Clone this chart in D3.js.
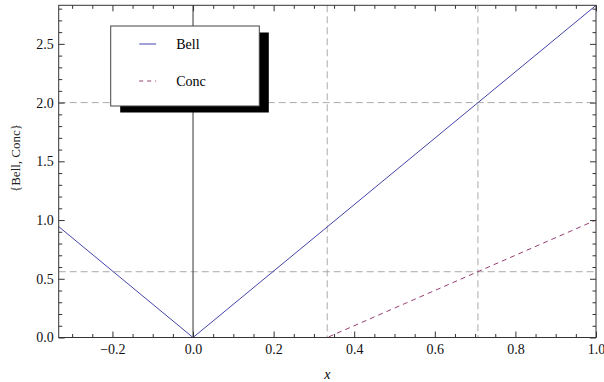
<!DOCTYPE html>
<html>
<head>
<meta charset="utf-8">
<script src="https://cdn.jsdelivr.net/npm/d3@7"></script>
<style>
  body { margin: 0; background: white; }
  svg text { font-family: "Liberation Serif", "DejaVu Serif", serif; }
</style>
</head>
<body>
<svg id="main-svg" width="604" height="382"></svg>
<script>
// series
var bellX = [-0.333, 0, 1];
var bellY = [0.943, 0, 2.828];
var concX = [-0.333, 0.333, 1];
var concY = [0, 0, 1];

// dashed reference lines
var refX = [0.333, 0.707];
var refY = [0.56, 2.0];

// ticks
var xTicks = [-0.2, 0.0, 0.2, 0.4, 0.6, 0.8, 1.0];
var yTicks = [0.0, 0.5, 1.0, 1.5, 2.0, 2.5];
var seriesNames = ["Bell", "Conc"];

var svg = d3.select("#main-svg");

const plotLeft = 58.7, plotRight = 596, plotTop = 5.3, plotBottom = 337.5;
const colorBell = "#4444a8";
const colorConc = "#993d71";
const serif = "'Liberation Serif', 'DejaVu Serif', serif";

var x = d3.scaleLinear().domain([-1 / 3, 1]).range([plotLeft, plotRight]);
var y = d3.scaleLinear().domain([0, 2 * Math.SQRT2]).range([plotBottom, plotTop]);

// minor ticks
var xMinor = d3.range(-0.3, 1.0001, 0.05).filter(v => !xTicks.some(t => Math.abs(t - v) < 1e-6));
var yMinor = d3.range(0, 2.81, 0.1).filter(v => !yTicks.some(t => Math.abs(t - v) < 1e-6));

var g = svg.append("g");

// reference lines
refX.forEach(function(v) {
    g.append("line")
        .attr("x1", x(v)).attr("x2", x(v))
        .attr("y1", plotTop).attr("y2", plotBottom)
        .attr("stroke", "#aaaaaa")
        .attr("stroke-dasharray", "7,4");
});
refY.forEach(function(v) {
    g.append("line")
        .attr("x1", plotLeft).attr("x2", plotRight)
        .attr("y1", y(v)).attr("y2", y(v))
        .attr("stroke", "#aaaaaa")
        .attr("stroke-dasharray", "7,4");
});

// vertical axis at x = 0
g.append("line")
    .attr("x1", x(0)).attr("x2", x(0))
    .attr("y1", plotTop).attr("y2", plotBottom)
    .attr("stroke", "#555")
    .attr("stroke-width", 1.2);

// series
var line = d3.line().x(d => x(d[0])).y(d => y(d[1]));

g.append("path")
    .datum(concX.map((v, i) => [v, concY[i]]))
    .attr("d", line)
    .attr("fill", "none")
    .attr("stroke", colorConc)
    .attr("stroke-dasharray", "5,4");

g.append("path")
    .datum(bellX.map((v, i) => [v, bellY[i]]))
    .attr("d", line)
    .attr("fill", "none")
    .attr("stroke", colorBell);

// frame axes with inward ticks
function frameAxis(axis, ticks, minor, transform, labels) {
    var a = g.append("g").attr("transform", transform);
    a.call(axis.tickValues(ticks).tickSize(-6).tickSizeOuter(0)
        .tickFormat(labels ? d3.format(".1f") : ""));
    a.attr("font-family", serif).attr("font-size", 14);
    a.select(".domain").remove();
    a.selectAll(".tick line").attr("stroke", "#333");
    a.selectAll(".tick text")
        .attr("fill", "#111")
        .style("font-family", serif)
        .style("font-size", "14px");
    var m = g.append("g").attr("transform", transform);
    m.call(axis.tickValues(minor).tickSize(-3.5).tickFormat(""));
    m.select(".domain").remove();
    m.selectAll(".tick line").attr("stroke", "#333");
    return a;
}

var xb = frameAxis(d3.axisBottom(x), xTicks, xMinor, `translate(0,${plotBottom})`, true);
xb.selectAll(".tick text").attr("dy", "0.71em").attr("y", 7)
    .text(d => d3.format(".1f")(d).replace("-", "\u2212"));
frameAxis(d3.axisTop(x), xTicks, xMinor, `translate(0,${plotTop})`, false);
var yl = frameAxis(d3.axisLeft(y), yTicks, yMinor, `translate(${plotLeft},0)`, true);
yl.selectAll(".tick text").attr("x", -5);
frameAxis(d3.axisRight(y), yTicks, yMinor, `translate(${plotRight},0)`, false);

g.append("rect")
    .attr("x", plotLeft).attr("y", plotTop)
    .attr("width", plotRight - plotLeft).attr("height", plotBottom - plotTop)
    .attr("fill", "none")
    .attr("stroke", "#333");

// axis labels
g.append("text")
    .attr("x", (plotLeft + plotRight) / 2)
    .attr("y", 379)
    .attr("text-anchor", "middle")
    .style("font-family", serif)
    .style("font-style", "italic")
    .style("font-size", "14px")
    .text("x");

g.append("text")
    .attr("transform", "translate(20,158) rotate(-90)")
    .attr("text-anchor", "middle")
    .style("font-family", serif)
    .style("font-size", "13px")
    .attr("fill", "#222")
    .text("{Bell, Conc}");

// legend with drop shadow
var legend = svg.append("g").attr("transform", "translate(110.7,26)");
legend.append("rect")
    .attr("x", 9.5).attr("y", 6.5)
    .attr("width", 148.6).attr("height", 80)
    .attr("fill", "black");
legend.append("rect")
    .attr("width", 148.6).attr("height", 80)
    .attr("fill", "white")
    .attr("stroke", "#444");

seriesNames.forEach(function(name, i) {
    var row = legend.append("g").attr("transform", `translate(0,${18 + i * 37})`);
    row.append("line")
        .attr("x1", 28.5).attr("x2", 45.5)
        .attr("stroke", i === 0 ? colorBell : colorConc)
        .attr("stroke-dasharray", i === 0 ? null : "4,4");
    row.append("text")
        .attr("x", 65.5)
        .attr("dy", "0.35em")
        .style("font-family", serif)
        .style("font-size", "14px")
        .text(name);
});
</script>
</body>
</html>
